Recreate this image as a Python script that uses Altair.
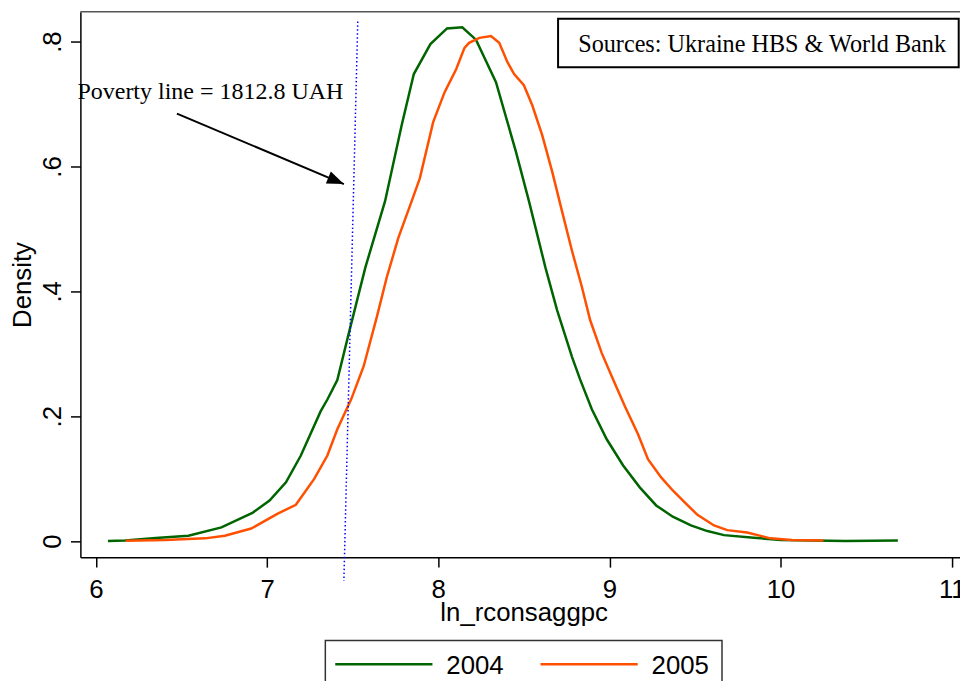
import altair as alt
import pandas as pd

# ---- data ----
x_2004 = [6.07, 6.17, 6.35, 6.54, 6.733, 6.917, 7.014, 7.11, 7.197, 7.313, 7.352, 7.41,
          7.477, 7.574, 7.689, 7.786, 7.857, 7.954, 8.051, 8.14, 8.22, 8.337, 8.453,
          8.53, 8.626, 8.694, 8.781, 8.829, 8.897, 8.984, 9.08, 9.177, 9.273, 9.37,
          9.476, 9.572, 9.669, 9.843, 10.0, 10.38, 10.685]
d_2004 = [0.0, 0.001, 0.005, 0.0086, 0.0218, 0.0456, 0.065, 0.094, 0.137, 0.208, 0.2267, 0.258,
          0.3326, 0.4384, 0.5443, 0.666, 0.748, 0.796, 0.821, 0.823, 0.803, 0.735, 0.624,
          0.544, 0.438, 0.370, 0.295, 0.2585, 0.211, 0.163, 0.121, 0.086, 0.057, 0.039,
          0.025, 0.016, 0.0095, 0.0054, 0.0016, 0.0, 0.001]
x_2005 = [6.174, 6.406, 6.637, 6.753, 6.907, 7.062, 7.168, 7.275, 7.352, 7.41, 7.491, 7.564,
          7.641, 7.699, 7.767, 7.844, 7.892, 7.97, 8.037, 8.105, 8.153, 8.18, 8.24, 8.308,
          8.356, 8.404, 8.443, 8.5, 8.549, 8.607, 8.665, 8.723, 8.781, 8.839, 8.887, 8.955,
          9.022, 9.09, 9.167, 9.225, 9.302, 9.37, 9.447, 9.514, 9.611, 9.688, 9.804, 9.878,
          9.94, 10.066, 10.25]
d_2005 = [0.0006, 0.0016, 0.0043, 0.0086, 0.020, 0.044, 0.058, 0.0996, 0.137, 0.179, 0.227, 0.28,
          0.359, 0.4225, 0.486, 0.544, 0.581, 0.671, 0.719, 0.756, 0.79, 0.798, 0.806, 0.809,
          0.798, 0.767, 0.748, 0.730, 0.698, 0.650, 0.592, 0.528, 0.465, 0.407, 0.354, 0.301,
          0.2585, 0.216, 0.171, 0.131, 0.102, 0.081, 0.060, 0.042, 0.025, 0.0175, 0.0138, 0.0086,
          0.0043, 0.0016, 0.001]
years = ["2004", "2005"]
year_colors = ["#006400", "#FF5000"]

pov_x = [7.5296, 7.4484]
pov_y = [0.8323, -0.064]
arrow_x = [6.473, 7.4484]
arrow_y = [0.6846, 0.5718]
pov_label = ["Poverty line = 1812.8 UAH"]
source_label = ["Sources: Ukraine HBS & World Bank"]
x_ticks = [6, 7, 8, 9, 10, 11]
y_ticks = [0, 0.2, 0.4, 0.6, 0.8]

SANS = "Liberation Sans"
SERIF = "Liberation Serif"

df = pd.DataFrame({
    "x": x_2004 + x_2005,
    "d": d_2004 + d_2005,
    "year": [years[0]] * len(x_2004) + [years[1]] * len(x_2005),
})
pov_df = pd.DataFrame({"x": [pov_x[0]], "x2": [pov_x[1]], "y": [pov_y[0]], "y2": [pov_y[1]]})
arrow_df = pd.DataFrame({"x": [arrow_x[0]], "x2": [arrow_x[1]], "y": [arrow_y[0]], "y2": [arrow_y[1]]})
head_df = pd.DataFrame({"x": [arrow_x[1]], "y": [arrow_y[1]]})

xscale = alt.Scale(domain=[5.909, 11.048], nice=False, zero=False)
yscale = alt.Scale(domain=[-0.0259, 0.8477], nice=False, zero=False)

x_axis = alt.Axis(values=x_ticks, format="d", title="ln_rconsaggpc", grid=False, tickSize=10,
                  tickWidth=1.5, tickColor="black", domainColor="black", domainWidth=1.5,
                  labelFont=SANS, labelFontSize=26, labelColor="black", labelPadding=10,
                  labelFlush=False, labelOverlap=False,
                  titleFont=SANS, titleFontSize=26, titleFontWeight="normal", titleColor="black",
                  titleX=447, titleY=64, titleBaseline="alphabetic", titleAlign="center")
y_axis = alt.Axis(values=y_ticks, title="Density", grid=False, tickSize=10, tickWidth=1.5,
                  tickColor="black", domainColor="black", domainWidth=1.5,
                  labelExpr="datum.value == 0 ? '0' : '.' + round(datum.value * 10)",
                  labelFont=SANS, labelFontSize=26, labelColor="black", labelPadding=10,
                  labelAngle=270, labelAlign="center", labelBaseline="alphabetic",
                  labelFlush=False, labelOverlap=False,
                  titleFont=SANS, titleFontSize=26, titleFontWeight="normal", titleColor="black",
                  titleAngle=270, titleX=-50, titleY=275, titleBaseline="alphabetic",
                  titleAlign="center")

lines = alt.Chart(df).mark_line(strokeWidth=2.5, clip=False).encode(
    x=alt.X("x:Q", scale=xscale, axis=x_axis),
    y=alt.Y("d:Q", scale=yscale, axis=y_axis),
    color=alt.Color("year:N", scale=alt.Scale(domain=years, range=year_colors), legend=None),
)

pov = alt.Chart(pov_df).mark_rule(color="#0000FF", strokeDash=[1.5, 2.5], strokeWidth=1.5, clip=False).encode(
    x=alt.X("x:Q", scale=xscale), x2="x2:Q",
    y=alt.Y("y:Q", scale=yscale), y2="y2:Q",
)

arrow = alt.Chart(arrow_df).mark_rule(color="black", strokeWidth=2).encode(
    x=alt.X("x:Q", scale=xscale), x2="x2:Q",
    y=alt.Y("y:Q", scale=yscale), y2="y2:Q",
)

head = alt.Chart(head_df).mark_point(shape="M0,0L-1,-0.38L-1,0.38Z", filled=True, size=1156,
                                     angle=22.9, color="black", opacity=1).encode(
    x=alt.X("x:Q", scale=xscale),
    y=alt.Y("y:Q", scale=yscale),
)

pov_text = alt.Chart(pd.DataFrame({"t": pov_label})).mark_text(
    align="left", baseline="alphabetic", font=SERIF, fontSize=24.2, color="black").encode(
    text="t:N", x=alt.value(-3), y=alt.value(87.7))

src_box = alt.Chart(pd.DataFrame({"t": source_label})).mark_rect(
    fill="white", stroke="black", strokeWidth=2).encode(
    x=alt.value(481.7), x2=alt.value(885.7), y=alt.value(7), y2=alt.value(56))

src_text = alt.Chart(pd.DataFrame({"t": source_label})).mark_text(
    align="left", baseline="alphabetic", font=SERIF, fontSize=24.4, color="black").encode(
    text="t:N", x=alt.value(502), y=alt.value(40.3))

top_line = alt.Chart(pd.DataFrame({"t": source_label})).mark_rule(color="#555555", strokeWidth=1.5).encode(
    x=alt.value(0), x2=alt.value(887), y=alt.value(0))

# ---- legend (drawn by hand: a boxed row of line keys) ----
leg_box = alt.Chart(pd.DataFrame({"t": years[:1]})).mark_rect(
    fill="white", stroke="#333333", strokeWidth=1.5).encode(
    x=alt.value(247), x2=alt.value(647), y=alt.value(634), y2=alt.value(700))
legend_layers = [leg_box]
for i, (yr, col) in enumerate(zip(years, year_colors)):
    off = i * 207
    legend_layers.append(
        alt.Chart(pd.DataFrame({"year": [yr]})).mark_rule(color=col, strokeWidth=2.5).encode(
            x=alt.value(257 + off), x2=alt.value(355 + off), y=alt.value(658)))
    legend_layers.append(
        alt.Chart(pd.DataFrame({"year": [yr]})).mark_text(
            align="left", baseline="alphabetic", font=SANS, fontSize=26, color="black").encode(
            text="year:N", x=alt.value(369 + off), y=alt.value(667.5)))

chart = alt.layer(top_line, lines, pov, arrow, head, pov_text, src_box, src_text,
                  *legend_layers).properties(
    width=887, height=550,
    padding={"left": 73, "top": 1, "right": 0, "bottom": 122},
    autosize=alt.AutoSizeParams(type="none"),
    background="white",
).configure_view(stroke=None)

chart.save("out.html", embed_options={"renderer": "svg", "actions": False})
